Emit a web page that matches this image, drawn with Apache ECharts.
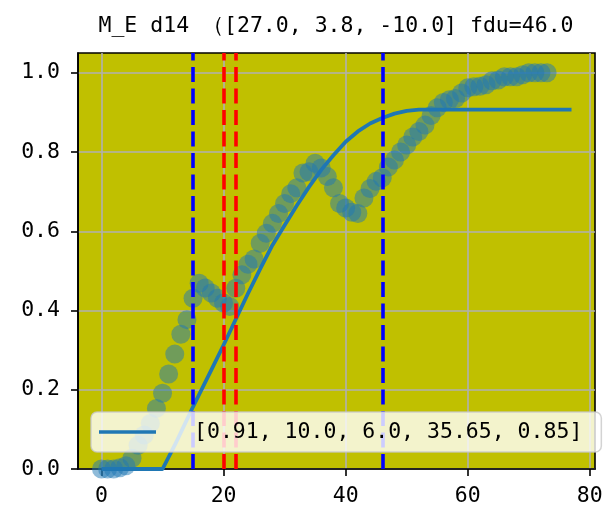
<!DOCTYPE html>
<html>
<head>
<meta charset="utf-8">
<script src="https://cdn.jsdelivr.net/npm/echarts@6/dist/echarts.min.js"></script>
<style>
html,body{margin:0;padding:0;background:#ffffff;}
#chart{width:609px;height:528px;}
</style>
</head>
<body>
<div id="chart"></div>
<script>
const titleText = 'M_E d14 （[27.0, 3.8, -10.0] fdu=46.0';
const legendName = '[0.91, 10.0, 6.0, 35.65, 0.85]';

const scatterX = [0,1,2,3,4,5,6,7,8,9,10,11,12,13,14,15,16,17,18,19,20,21,22,23,24,25,26,27,28,29,30,31,32,33,34,35,36,37,38,39,40,41,42,43,44,45,46,47,48,49,50,51,52,53,54,55,56,57,58,59,60,61,62,63,64,65,66,67,68,69,70,71,72,73];
const scatterY = [0.0,0.0,0.0,0.003,0.008,0.027,0.06,0.086,0.115,0.153,0.191,0.24,0.29,0.34,0.377,0.431,0.469,0.457,0.444,0.431,0.419,0.41,0.456,0.49,0.517,0.53,0.57,0.595,0.62,0.645,0.67,0.695,0.71,0.747,0.75,0.772,0.76,0.738,0.71,0.67,0.659,0.648,0.645,0.684,0.708,0.726,0.735,0.762,0.78,0.80,0.818,0.838,0.852,0.868,0.892,0.912,0.925,0.932,0.935,0.949,0.962,0.965,0.966,0.97,0.98,0.982,0.99,0.99,0.99,0.995,1.0,1.0,1.0,1.0];

const curveX = [0,10,12,15,18,20,22,24,26,28,30,32,34,36,38,40,42,44,46,48,50,52,77];
const curveY = [0,0,0.06,0.157,0.25,0.313,0.378,0.443,0.505,0.565,0.615,0.665,0.712,0.755,0.792,0.826,0.852,0.872,0.886,0.897,0.904,0.907,0.907];

const blueLinesX = [15, 46];
const redLinesX = [20, 22];

const xTicks = [0,20,40,60,80];
const yTicks = [0,0.2,0.4,0.6,0.8,1.0];

const FONT = '"DejaVu Sans Mono", "Liberation Mono", monospace';
const FS = 21.5;

const chart = echarts.init(document.getElementById('chart'), null, {renderer:'canvas'});

const vlines = [];
blueLinesX.forEach(x => vlines.push({xAxis: x, lineStyle: {color: '#0000ff'}}));
redLinesX.forEach(x => vlines.push({xAxis: x, lineStyle: {color: '#ff0000'}}));

const option = {
  animation: false,
  backgroundColor: '#ffffff',
  title: {
    text: titleText,
    left: 336,
    top: 15,
    padding: 0,
    textAlign: 'center',
    textStyle: {fontFamily: FONT, fontSize: FS, fontWeight: 'normal', color: '#000'}
  },
  grid: {
    left: 78, right: 14, top: 53, bottom: 59,
    show: true,
    backgroundColor: '#c0c000',
    borderColor: '#000',
    borderWidth: 1.6,
    containLabel: false,
    outerBoundsMode: 'none'
  },
  legend: {
    show: true,
    left: 91,
    top: 412,
    z: 10,
    orient: 'horizontal',
    data: [{name: legendName, icon: 'rect'}],
    itemWidth: 57,
    itemHeight: 3.6,
    padding: [9, 19, 9, 8],
    backgroundColor: 'rgba(255,255,255,0.8)',
    borderColor: 'rgba(200,200,200,0.8)',
    borderWidth: 1.5,
    borderRadius: 6,
    selectedMode: false,
    formatter: name => '{t|' + name + '}',
    textStyle: {
      rich: {
        t: {fontFamily: FONT, fontSize: FS, color: '#000', padding: [0,0,0,33], lineHeight: 25}
      }
    }
  },
  xAxis: {
    type: 'value',
    min: -3.85,
    max: 80.85,
    axisLine: {show: true, onZero: false, lineStyle: {color: '#000', width: 1.6}},
    axisTick: {show: true, length: 7, inside: false, customValues: xTicks, lineStyle: {color: '#000', width: 1.6}},
    axisLabel: {show: true, customValues: xTicks, margin: 16, fontFamily: FONT, fontSize: FS, color: '#000',
      formatter: v => String(Math.round(v))},
    splitLine: {show: true, lineStyle: {color: '#b0b0b0', width: 1.6}}
  },
  yAxis: {
    type: 'value',
    min: 0,
    max: 1.05,
    axisLine: {show: true, onZero: false, lineStyle: {color: '#000', width: 1.6}},
    axisTick: {show: true, length: 7, inside: false, customValues: yTicks, lineStyle: {color: '#000', width: 1.6}},
    axisLabel: {show: true, customValues: yTicks, margin: 18, fontFamily: FONT, fontSize: FS, color: '#000',
      formatter: v => v.toFixed(1)},
    splitLine: {show: true, lineStyle: {color: '#b0b0b0', width: 1.6}}
  },
  series: [
    {
      type: 'scatter',
      name: 'points',
      z: 2,
      symbol: 'circle',
      symbolSize: 19,
      data: scatterX.map((x, i) => [x, scatterY[i]]),
      itemStyle: {color: '#1f77b4', opacity: 0.5},
      emphasis: {disabled: true}
    },
    {
      type: 'line',
      name: legendName,
      z: 3,
      data: curveX.map((x, i) => [x, curveY[i]]),
      showSymbol: false,
      symbol: 'none',
      smooth: false,
      itemStyle: {color: '#1f77b4'},
      lineStyle: {color: '#1f77b4', width: 3.8, join: 'round', cap: 'butt'},
      emphasis: {disabled: true}
    },
    {
      type: 'line',
      name: 'vlines',
      z: 4,
      data: [],
      showSymbol: false,
      markLine: {
        silent: true,
        symbol: ['none', 'none'],
        label: {show: false},
        lineStyle: {type: [15, 6.5], width: 3.6},
        emphasis: {disabled: true},
        data: vlines
      }
    }
  ]
};
chart.setOption(option);
</script>
</body>
</html>
